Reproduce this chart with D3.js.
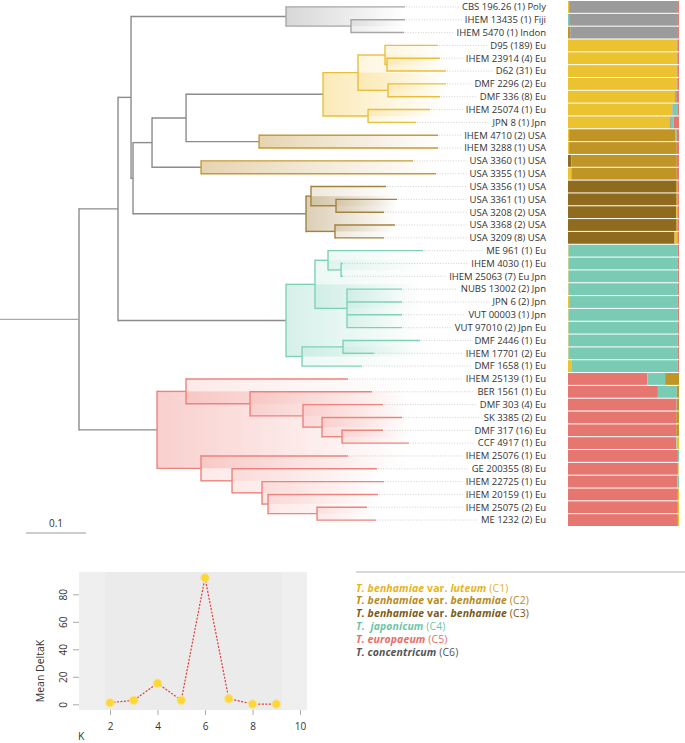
<!DOCTYPE html>
<html>
<head>
<meta charset="utf-8">
<script src="https://cdn.jsdelivr.net/npm/d3@7"></script>
<style>
body { margin: 0; background: #fff; }
svg { display: block; font-family: "Open Sans", sans-serif; }
</style>
</head>
<body>
<script>
// tip labels, top to bottom
const tipLabels = [
  "CBS 196.26 (1) Poly", "IHEM 13435 (1) Fiji", "IHEM 5470 (1) Indon",
  "D95 (189) Eu", "IHEM 23914 (4) Eu", "D62 (31) Eu", "DMF 2296 (2) Eu", "DMF 336 (8) Eu",
  "IHEM 25074 (1) Eu", "JPN 8 (1) Jpn",
  "IHEM 4710 (2) USA", "IHEM 3288 (1) USA", "USA 3360 (1) USA", "USA 3355 (1) USA",
  "USA 3356 (1) USA", "USA 3361 (1) USA", "USA 3208 (2) USA", "USA 3368 (2) USA", "USA 3209 (8) USA",
  "ME 961 (1) Eu", "IHEM 4030 (1) Eu", "IHEM 25063 (7) Eu Jpn", "NUBS 13002 (2) Jpn", "JPN 6 (2) Jpn",
  "VUT 00003 (1) Jpn", "VUT 97010 (2) Jpn Eu", "DMF 2446 (1) Eu", "IHEM 17701 (2) Eu", "DMF 1658 (1) Eu",
  "IHEM 25139 (1) Eu", "BER 1561 (1) Eu", "DMF 303 (4) Eu", "SK 3385 (2) Eu", "DMF 317 (16) Eu",
  "CCF 4917 (1) Eu", "IHEM 25076 (1) Eu", "GE 200355 (8) Eu", "IHEM 22725 (1) Eu", "IHEM 20159 (1) Eu",
  "IHEM 25075 (2) Eu", "ME 1232 (2) Eu"
];

// tree in newick, tN = row N of tipLabels, C1..C6 mark the clades
const cladeC6 = "(t0:0.1983,(t1:0.09,t2:0.0883):0.1083)C6";
const cladeC1 = "(((t3:0.0883,(t4:0.0883,t5:0.0983):0.0033):0.045,(t6:0.0967,t7:0.0867):0.05):0.0583,(t8:0.1033,t9:0.08):0.075)C1";
const cladeC2a = "(t10:0.2983,t11:0.2983)C2";
const cladeC2b = "(t12:0.3533,t13:0.3917)C2";
const cladeC3 = "((t14:0.125,(t15:0.1017,t16:0.08):0.0417):0.0083,(t17:0.1,t18:0.0817):0.0483)C3";
const cladeC4 = "(((t19:0.1583,(t20:0.0033,t21:0.0033):0.0217):0.0217,(t22:0.0917,t23:0.0917,t24:0.0917,t25:0.0917):0.0533):0.0483,((t26:0.1283,t27:0.0517):0.0683,t28:0.1):0.0267)C4";
const cladeC5 = "((t29:0.27,(t30:0.2033,(t31:0.1333,(t32:0.1333,(t33:0.0683,t34:0.1117):0.0333):0.0317):0.0883):0.1067):0.0483,(t35:0.245,(t36:0.2417,(t37:0.2033,(t38:0.1833,(t39:0.0833,t40:0.0983):0.0817):0.01):0.05):0.0517):0.0733)C5";
const nodeF = `(${cladeC1}:0.2283,${cladeC2a}:0.1217)`;
const nodeE = `(${nodeF}:0.0567,${cladeC2b}:0.0817)`;
const nodeD = `(${nodeE}:0.0317,${cladeC3}:0.2883)`;
const nodeC = `(${cladeC6}:0.2583,${nodeD}:0.0033)`;
const nodeB = `(${nodeC}:0.0217,${cladeC4}:0.28)`;
const newick = `(${nodeB}:0.065,${cladeC5}:0.13):0.1317;`;

// admixture per row: [cluster, share], left to right
const admixture = [
  [[1,.01],[6,.98],[5,.01]],
  [[4,.01],[6,.98],[5,.01]],
  [[2,.02],[6,.97],[5,.01]],
  [[1,.98],[6,.005],[5,.015]],
  [[1,.98],[6,.005],[5,.015]],
  [[1,.98],[6,.005],[5,.015]],
  [[1,.98],[6,.005],[5,.015]],
  [[1,.965],[6,.015],[5,.02]],
  [[1,.94],[6,.005],[4,.04],[5,.015]],
  [[1,.92],[6,.015],[4,.015],[5,.05]],
  [[1,.01],[2,.96],[4,.01],[5,.02]],
  [[1,.01],[2,.97],[5,.02]],
  [[3,.03],[2,.95],[5,.02]],
  [[1,.03],[2,.95],[5,.02]],
  [[3,.975],[2,.01],[5,.015]],
  [[3,.975],[2,.01],[5,.015]],
  [[3,.975],[1,.01],[5,.015]],
  [[3,.975],[2,.01],[5,.015]],
  [[3,.96],[1,.025],[5,.015]],
  [[1,.005],[4,.985],[5,.01]],
  [[1,.005],[4,.985],[5,.01]],
  [[1,.005],[4,.985],[5,.01]],
  [[1,.005],[4,.985],[5,.01]],
  [[1,.01],[4,.98],[5,.01]],
  [[1,.005],[4,.985],[5,.01]],
  [[1,.005],[4,.985],[5,.01]],
  [[1,.005],[4,.985],[5,.01]],
  [[1,.005],[4,.985],[5,.01]],
  [[1,.035],[4,.955],[5,.01]],
  [[5,.715],[4,.16],[2,.125]],
  [[5,.81],[4,.17],[2,.02]],
  [[5,.975],[6,.005],[2,.02]],
  [[5,.975],[2,.025]],
  [[5,.975],[2,.025]],
  [[5,.975],[4,.005],[1,.02]],
  [[5,.99],[4,.01]],
  [[5,.99],[4,.005],[1,.005]],
  [[5,.985],[4,.015]],
  [[5,.99],[1,.01]],
  [[5,.99],[1,.01]],
  [[5,.99],[1,.01]]
];

const clusterColors = {1:"#ebc22f", 2:"#c19426", 3:"#8f6b1f", 4:"#7acbb4", 5:"#e57670", 6:"#9b9b9b"};
const cladeLine = {C1:"#e8bf3a", C2:"#c69a35", C3:"#a3823d", C4:"#7ed1b9", C5:"#ee827c", C6:"#a6a6a6"};
const cladeFill = {C1:["#f5c842",.38], C2:["#c9a050",.45], C3:["#a98b4f",.42], C4:["#7ed1b9",.32], C5:["#ee827c",.38], C6:["#a0a0a0",.42]};
const backbone = "#8c8c8c";

// delta K
const kValues = [2, 3, 4, 5, 6, 7, 8, 9];
const deltaK = [1.2, 2.9, 15.3, 2.9, 92, 4.1, 0.2, 0.2];
const kTicks = [2, 4, 6, 8, 10];
const deltaTicks = [0, 20, 40, 60, 80];

const legendItems = [
  {color:"#e6b422", parts:[["T. benhamiae","bi"],[" var. ","b"],["luteum","bi"],[" (C1)","r"]]},
  {color:"#b88b22", parts:[["T. benhamiae","bi"],[" var. ","b"],["benhamiae","bi"],[" (C2)","r"]]},
  {color:"#7a5a18", parts:[["T. benhamiae","bi"],[" var. ","b"],["benhamiae","bi"],[" (C3)","r"]]},
  {color:"#6dc5aa", parts:[["T.\u00a0 japonicum","bi"],[" (C4)","r"]]},
  {color:"#ea6e68", parts:[["T. europaeum","bi"],[" (C5)","r"]]},
  {color:"#555555", parts:[["T. concentricum","bi"],[" (C6)","r"]]}
];

function parseNewick(s) {
  let i = 0;
  function node() {
    const n = {children: []};
    if (s[i] == "(") {
      i++;
      n.children.push(node());
      while (s[i] == ",") { i++; n.children.push(node()); }
      i++;
    }
    let name = "";
    while (i < s.length && !",):;".includes(s[i])) name += s[i++];
    n.name = name;
    n.len = 0;
    if (s[i] == ":") {
      i++;
      let num = "";
      while (i < s.length && !",);".includes(s[i])) num += s[i++];
      n.len = +num;
    }
    if (!n.children.length) delete n.children;
    return n;
  }
  return node();
}

const svg = d3.select("body").append("svg")
  .attr("width", 685)
  .attr("height", 743);

const x = d3.scaleLinear().domain([0, 1]).range([0, 600]);
const row = d3.scaleBand().domain(d3.range(tipLabels.length))
  .range([0.5, 526.5]).paddingInner(0.08).paddingOuter(0.04);
const rowY = i => row(i) + row.bandwidth() / 2;

const root = d3.hierarchy(parseNewick(newick));
root.eachBefore(d => {
  d.dist = (d.parent ? d.parent.dist : 0) + d.data.len;
  d.isCladeRoot = d.data.name.startsWith("C");
  d.clade = d.isCladeRoot ? d.data.name : (d.parent ? d.parent.clade : null);
});
root.eachAfter(d => {
  if (d.children) {
    d.y = (d.children[0].y + d.children[d.children.length - 1].y) / 2;
    d.maxDist = d3.max(d.children, c => c.maxDist);
  } else {
    d.row = +d.data.name.slice(1);
    d.y = rowY(d.row);
    d.maxDist = d.dist;
  }
});

//gradients for the clades
const defs = svg.append("defs");
Object.keys(cladeFill).forEach(k => {
  const g = defs.append("linearGradient").attr("id", "grad-" + k);
  g.append("stop").attr("offset", "0%").attr("stop-color", cladeFill[k][0]).attr("stop-opacity", cladeFill[k][1]);
  g.append("stop").attr("offset", "100%").attr("stop-color", cladeFill[k][0]).attr("stop-opacity", 0);
});

const tree = svg.append("g");
const inner = root.descendants().filter(d => d.children);

tree.selectAll("rect.clade")
  .data(inner.filter(d => d.clade))
  .enter()
  .append("rect")
  .attr("class", "clade")
  .attr("x", d => x(d.dist))
  .attr("y", d => d.children[0].y)
  .attr("width", d => x(d.maxDist) - x(d.dist))
  .attr("height", d => d.children[d.children.length - 1].y - d.children[0].y)
  .attr("fill", d => `url(#grad-${d.clade})`)
  .attr("opacity", d => d.isCladeRoot ? 1 : 0.45);

// leader lines from tips to labels
const leaves = root.leaves();
const labels = tree.selectAll("text.tip")
  .data(leaves)
  .enter()
  .append("text")
  .attr("class", "tip")
  .attr("x", 546)
  .attr("y", d => d.y)
  .attr("dy", "0.35em")
  .attr("text-anchor", "end")
  .attr("font-size", 9.5)
  .attr("fill", "#333")
  .text(d => tipLabels[d.row]);

labels.each(function (d) { d.textStart = 546 - this.getComputedTextLength() - 3; });

tree.selectAll("line.lead")
  .data(leaves)
  .enter()
  .append("line")
  .attr("x1", d => x(d.dist) + 1)
  .attr("x2", d => d.textStart)
  .attr("y1", d => d.y)
  .attr("y2", d => d.y)
  .attr("stroke", "#cccccc")
  .attr("stroke-width", 0.9)
  .attr("stroke-dasharray", "1,1.6");

// horizontal branches
tree.selectAll("line.h")
  .data(root.descendants().filter(d => d.parent))
  .enter()
  .append("line")
  .attr("x1", d => x(d.parent.dist))
  .attr("x2", d => x(d.dist))
  .attr("y1", d => d.y)
  .attr("y2", d => d.y)
  .attr("stroke", d => d.parent.clade ? cladeLine[d.parent.clade] : backbone)
  .attr("stroke-width", 1.4);

// vertical connectors
tree.selectAll("line.v")
  .data(inner)
  .enter()
  .append("line")
  .attr("x1", d => x(d.dist))
  .attr("x2", d => x(d.dist))
  .attr("y1", d => d.children[0].y - 0.7)
  .attr("y2", d => d.children[d.children.length - 1].y + 0.7)
  .attr("stroke", d => d.clade ? cladeLine[d.clade] : backbone)
  .attr("stroke-width", 1.4);

// root stem
tree.append("line")
  .attr("x1", x(0)).attr("x2", x(root.dist))
  .attr("y1", root.y).attr("y2", root.y)
  .attr("stroke", "#aaa")
  .attr("stroke-width", 1.4);

// scale bar
tree.append("line")
  .attr("x1", 26).attr("x2", 26 + x(0.1))
  .attr("y1", 533).attr("y2", 533)
  .attr("stroke", "#999")
  .attr("stroke-width", 1.2);
tree.append("text")
  .attr("x", 26 + x(0.05)).attr("y", 527)
  .attr("text-anchor", "middle")
  .attr("font-size", 10)
  .attr("fill", "#333")
  .text("0.1");

// structure bars
const bx = d3.scaleLinear().domain([0, 1]).range([568, 679]);
const bars = svg.append("g");
admixture.forEach((segs, i) => {
  let acc = 0;
  const stacked = segs.map(s => { const o = {k: s[0], x0: acc, x1: acc + s[1]}; acc += s[1]; return o; });
  bars.selectAll(null)
    .data(stacked)
    .enter()
    .append("rect")
    .attr("x", d => bx(d.x0))
    .attr("width", d => bx(d.x1) - bx(d.x0))
    .attr("y", row(i))
    .attr("height", row.bandwidth())
    .attr("fill", d => clusterColors[d.k]);
});

// delta K plot
const kx = d3.scaleLinear().domain([2, 10]).range([110, 300]);
const ky = d3.scaleLinear().domain([0, 80]).range([704.3, 594.3]);
const plot = svg.append("g");
plot.append("rect")
  .attr("x", 79).attr("y", 572)
  .attr("width", 228).attr("height", 138)
  .attr("fill", "#efefef");
plot.append("rect")
  .attr("x", 105).attr("y", 572)
  .attr("width", 177).attr("height", 138)
  .attr("fill", "#ebebeb");

const yAxis = plot.append("g")
  .attr("transform", "translate(79,0)")
  .call(d3.axisLeft(ky).tickValues(deltaTicks).tickSize(6));
yAxis.select(".domain").remove();
yAxis.selectAll("line").attr("stroke", "#aaa");
yAxis.selectAll("text")
  .attr("transform", "rotate(-90)")
  .attr("text-anchor", "middle")
  .attr("x", 0).attr("y", -12.5).attr("dy", null)
  .attr("font-size", 10)
  .attr("font-family", "Open Sans")
  .attr("fill", "#333");

const xAxis = plot.append("g")
  .attr("transform", "translate(0,710)")
  .call(d3.axisBottom(kx).tickValues(kTicks).tickSize(5).tickPadding(8));
xAxis.select(".domain").remove();
xAxis.selectAll("line").attr("stroke", "#aaa");
xAxis.selectAll("text")
  .attr("font-size", 10)
  .attr("font-family", "Open Sans")
  .attr("fill", "#333");

plot.append("text")
  .attr("transform", "translate(44,671) rotate(-90)")
  .attr("text-anchor", "middle")
  .attr("font-size", 10.5)
  .attr("fill", "#333")
  .text("Mean DeltaK");
plot.append("text")
  .attr("x", 78).attr("y", 740)
  .attr("font-size", 10.5)
  .attr("fill", "#333")
  .text("K");

const kData = kValues.map((k, i) => [k, deltaK[i]]);
plot.append("path")
  .datum(kData)
  .attr("d", d3.line().x(d => kx(d[0])).y(d => ky(d[1])))
  .attr("fill", "none")
  .attr("stroke", "#e53935")
  .attr("stroke-width", 1.2)
  .attr("stroke-dasharray", "2,1.5");
plot.selectAll("circle")
  .data(kData)
  .enter()
  .append("circle")
  .attr("cx", d => kx(d[0]))
  .attr("cy", d => ky(d[1]))
  .attr("r", 4.2)
  .attr("fill", "#fdd835")
  .attr("stroke", "#f7e39a")
  .attr("stroke-width", 1);

// legend
const legend = svg.append("g");
legend.append("line")
  .attr("x1", 356).attr("x2", 685)
  .attr("y1", 572).attr("y2", 572)
  .attr("stroke", "#ccc")
  .attr("stroke-width", 1.3);
legendItems.forEach((item, i) => {
  const t = legend.append("text")
    .attr("x", 356)
    .attr("y", 591.5 + i * 12.8)
    .attr("font-size", 10.5)
    .attr("letter-spacing", 0.1)
    .attr("fill", item.color)
    .style("white-space", "pre");
  item.parts.forEach(p => {
    t.append("tspan")
      .attr("font-weight", p[1] == "r" ? 400 : 700)
      .attr("font-style", p[1] == "bi" ? "italic" : "normal")
      .text(p[0]);
  });
});
</script>
</body>
</html>
